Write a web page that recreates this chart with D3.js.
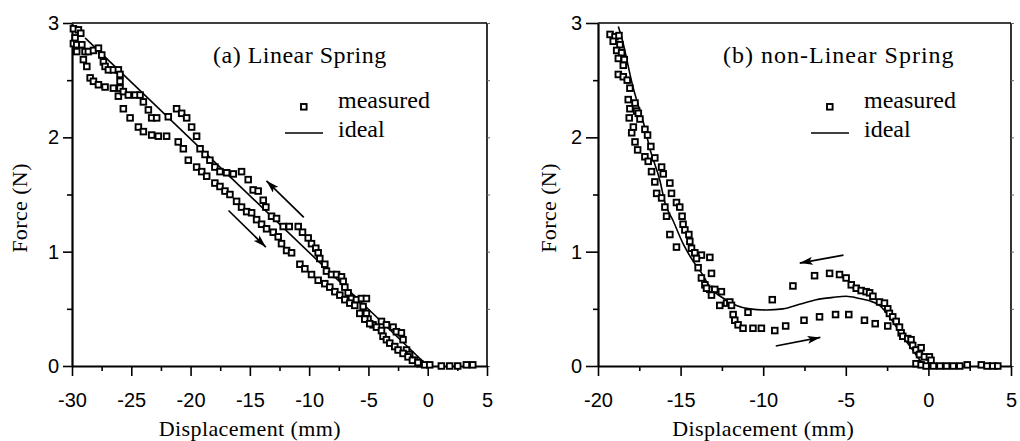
<!DOCTYPE html>
<html>
<head>
<meta charset="utf-8">
<script src="https://cdn.jsdelivr.net/npm/d3@7"></script>
<style>
body { margin: 0; background: #fff; }
</style>
</head>
<body>
<script>
// (a) linear spring, measured points [displacement mm, force N]
var upperA = [[-29.88,2.95],[-29.46,2.94],[-29.26,2.91],[-29.74,2.87],[-29.88,2.82],[-29.6,2.81],[-29.17,2.81],
  [-29.6,2.75],[-28.9,2.75],[-28.62,2.75],[-28.19,2.76],[-27.77,2.78],[-27.49,2.72],[-27.35,2.66],[-27.21,2.62],
  [-26.93,2.59],[-26.51,2.59],[-26.09,2.59],[-25.95,2.55],[-25.95,2.49],[-25.95,2.43],[-26.09,2.36],[-25.67,2.4],
  [-25.25,2.37],[-24.68,2.37],[-24.26,2.37],[-23.98,2.31],[-23.56,2.24],[-23.28,2.17],[-22.86,2.17],[-21.88,2.18],
  [-21.18,2.25],[-20.75,2.21],[-20.33,2.17],[-19.91,2.09],[-19.49,2.01],[-19.2,1.9],[-18.78,1.85],[-18.37,1.8],
  [-17.95,1.74],[-17.52,1.7],[-16.96,1.69],[-16.4,1.68],[-15.7,1.7],[-15.14,1.63],[-14.72,1.54],[-14.3,1.53],
  [-13.87,1.45],[-13.65,1.39],[-13.17,1.31],[-12.75,1.29],[-12.19,1.22],[-11.68,1.22],[-10.92,1.22],[-10.56,1.17],
  [-10.08,1.12],[-9.8,1.07],[-9.44,1.03],[-9.24,0.99],[-9.1,0.94],[-8.68,0.89],[-8.54,0.83],[-8.11,0.8],[-7.69,0.8],
  [-7.27,0.78],[-7.13,0.74],[-6.99,0.69],[-6.71,0.64],[-6.43,0.59],[-6.01,0.58],[-5.59,0.59],[-5.17,0.59],
  [-5.45,0.52],[-5.17,0.46],[-5.03,0.41],[-4.61,0.36],[-3.9,0.39],[-3.48,0.36],[-2.92,0.34],[-2.64,0.3],
  [-2.22,0.29],[-2.08,0.23],[-1.79,0.14],[-1.52,0.1],[-1.1,0.05],[-0.67,0.02],[-0.25,0.01]];
var lowerA = [[-29.04,2.68],[-28.75,2.62],[-28.47,2.52],[-28.19,2.49],[-27.77,2.46],[-27.21,2.44],[-26.51,2.43],
  [-25.67,2.25],[-25.1,2.17],[-24.4,2.09],[-23.98,2.05],[-23.28,2.02],[-22.72,2.01],[-22.02,2.01],[-21.04,1.96],
  [-20.61,1.9],[-20.19,1.8],[-19.49,1.74],[-19.06,1.7],[-18.64,1.66],[-17.95,1.6],[-17.52,1.57],[-17.1,1.53],
  [-16.68,1.5],[-16.12,1.44],[-15.7,1.39],[-15.27,1.35],[-14.85,1.34],[-14.43,1.28],[-14.01,1.24],[-13.59,1.2],
  [-13.03,1.17],[-12.61,1.13],[-12.33,1.07],[-11.9,1.01],[-11.48,0.99],[-10.78,0.89],[-10.36,0.85],[-9.8,0.8],
  [-9.24,0.75],[-8.68,0.72],[-8.26,0.69],[-7.83,0.65],[-7.41,0.62],[-6.99,0.58],[-6.57,0.55],[-6.15,0.53],
  [-5.73,0.46],[-5.31,0.41],[-4.89,0.37],[-4.32,0.34],[-3.9,0.31],[-3.77,0.26],[-3.48,0.23],[-3.2,0.2],
  [-2.78,0.17],[-2.5,0.14],[-2.08,0.11],[-1.66,0.08],[-1.29,0.05],[-0.82,0.03]];
var flatA = [[0.17,0.01],[1.15,0],[1.85,0],[2.53,0],[3.26,0.01],[3.8,0.01]];
var idealA = [[-28.9,2.87],[0,0]];
var arrowsA = [[-16.8,1.36,-13.65,1.04],[-10.45,1.3,-13.6,1.62]];

// (b) non-linear spring
var steepB = [[-19.27,2.9],[-18.97,2.88],[-18.73,2.89],[-19.08,2.84],[-18.67,2.81],[-18.87,2.76],[-18.57,2.74],
  [-18.77,2.69],[-18.41,2.68],[-18.47,2.63],[-18.77,2.55],[-18.47,2.53],[-18.23,2.5],[-18.07,2.43],[-18.17,2.33],
  [-17.76,2.3],[-18.07,2.25],[-17.66,2.23],[-17.56,2.21],[-18.11,2.17],[-17.46,2.16],[-17.86,2.09],[-17.16,2.07],
  [-17.96,2.04],[-17.0,2.02],[-17.76,1.96],[-16.8,1.92],[-17.6,1.89],[-17.16,1.83],[-16.56,1.82],[-16.96,1.79],
  [-16.15,1.74],[-16.76,1.7],[-16.05,1.68],[-16.56,1.61],[-15.65,1.6],[-16.45,1.51],[-15.55,1.51],[-16.15,1.47],
  [-15.25,1.43],[-15.95,1.39],[-15.05,1.39],[-15.85,1.31],[-14.91,1.31],[-14.85,1.24],[-14.74,1.19],[-15.65,1.15],
  [-14.5,1.15],[-14.44,1.09],[-15.25,1.04],[-14.34,1.03],[-14.14,0.99],[-13.74,0.97],[-13.23,0.95],[-14.04,0.94],
  [-13.94,0.86],[-13.13,0.81],[-13.74,0.77],[-13.53,0.71],[-13.23,0.67],[-12.93,0.67],[-12.53,0.65],[-13.13,0.62],
  [-13.43,0.68],[-12.63,0.53],[-12.22,0.55],[-12.02,0.56],[-11.92,0.53]];
var humpLowerB = [[-11.82,0.45],[-11.72,0.4],[-11.52,0.36],[-11.22,0.33],[-10.62,0.33],[-10.11,0.33],[-9.3,0.31],
  [-8.64,0.35],[-7.53,0.4],[-6.59,0.43],[-5.62,0.45],[-4.82,0.45],[-3.87,0.4],[-3.22,0.37],[-2.46,0.35]];
var humpUpperB = [[-10.92,0.47],[-9.45,0.58],[-8.2,0.7],[-6.89,0.79],[-5.98,0.81],[-5.38,0.8],[-4.98,0.77],
  [-4.67,0.71],[-4.37,0.68],[-4.07,0.66],[-3.77,0.65],[-3.56,0.64],[-3.36,0.61],[-2.96,0.56],[-2.66,0.55]];
var dropB = [[-2.46,0.5],[-2.36,0.46],[-2.16,0.43],[-1.95,0.39],[-1.75,0.34],[-1.65,0.29],[-1.55,0.26],
  [-1.25,0.24],[-1.05,0.23],[-0.95,0.18],[-0.75,0.14],[-0.44,0.16],[-0.54,0.1],[-0.24,0.08],[0.06,0.08],
  [0.16,0.05],[-0.75,0.02],[-0.44,0.01],[-0.14,0]];
var flatB = [[0.3,0],[0.7,0],[1.1,0],[1.5,0],[1.9,0],[2.35,0.01],[3.2,0.01],[3.55,0],[3.9,0],[4.2,0]];
var idealB = [[-18.77,2.97],[-18.6,2.89],[-17.9,2.45],[-17.16,2.08],[-16.86,1.9],[-16.25,1.62],[-15.95,1.43],
  [-15.45,1.27],[-14.85,1.07],[-14.3,0.93],[-13.63,0.79],[-13.23,0.69],[-12.6,0.61],[-12.12,0.57],[-11.62,0.53],
  [-10.82,0.5],[-9.82,0.49],[-8.8,0.5],[-7.8,0.54],[-6.79,0.58],[-5.78,0.6],[-4.98,0.61],[-4.17,0.59],
  [-3.56,0.57],[-2.96,0.53],[-2.36,0.43],[-1.75,0.3],[-0.95,0.14],[-0.44,0.04],[0.06,0]];
var arrowsB = [[-5.14,0.97,-7.79,0.9],[-9.24,0.175,-6.54,0.25]];

// ticks
var xTicksA = [-30, -25, -20, -15, -10, -5, 0, 5];
var xMinorA = [-27.5, -22.5, -17.5, -12.5, -7.5, -2.5, 2.5];
var xTicksB = [-20, -15, -10, -5, 0, 5];
var xMinorB = [-17.5, -12.5, -7.5, -2.5, 2.5];
var yTicks = [0, 1, 2, 3];
var yMinor = [0.5, 1.5, 2.5];

var width = 1020;
var height = 441;
var serif = '"Liberation Serif", "Times New Roman", serif';
var sans = '"Liberation Sans", Arial, sans-serif';

var svg = d3.select('body').append('svg')
    .attr('width', width)
    .attr('height', height);

svg.append('defs').append('marker')
    .attr('id', 'head')
    .attr('viewBox', '0 0 13 8')
    .attr('refX', 13)
    .attr('refY', 4)
    .attr('markerWidth', 13)
    .attr('markerHeight', 8)
    .attr('markerUnits', 'userSpaceOnUse')
    .attr('orient', 'auto')
    .append('path')
    .attr('d', 'M0,0L13,4L0,8L3,4Z')
    .attr('fill', '#000');

function drawPanel(p) {
    var x = d3.scaleLinear().domain(p.xDomain).range([p.left, p.right]);
    var y = d3.scaleLinear().domain([0, 3]).range([366, 23]);
    var g = svg.append('g');

    // frame
    g.append('line').attr('x1', p.left).attr('x2', p.right).attr('y1', y(3)).attr('y2', y(3))
        .attr('stroke', '#000').attr('stroke-width', 1.6);
    g.append('line').attr('x1', p.right).attr('x2', p.right).attr('y1', y(3)).attr('y2', y(0))
        .attr('stroke', '#000').attr('stroke-width', 1.6);
    var rt = g.append('g').attr('transform', 'translate(' + p.right + ',0)')
        .call(d3.axisRight(y).tickValues(yTicks.concat(yMinor)).tickSize(3).tickFormat(''));
    rt.select('.domain').remove();
    rt.selectAll('line').attr('stroke', '#666').attr('stroke-width', 1);

    // axes
    var xa = g.append('g').attr('transform', 'translate(0,' + y(0) + ')')
        .call(d3.axisBottom(x).tickValues(p.xTicks).tickSize(10).tickSizeOuter(0).tickPadding(17)
            .tickFormat(function (d) { return String(d); }));
    var xm = g.append('g').attr('transform', 'translate(0,' + y(0) + ')')
        .call(d3.axisBottom(x).tickValues(p.xMinor).tickSize(5).tickSizeOuter(0).tickFormat(''));
    xm.select('.domain').remove();
    var ya = g.append('g').attr('transform', 'translate(' + p.left + ',0)')
        .call(d3.axisLeft(y).tickValues(yTicks).tickSize(p.yTick).tickSizeOuter(0).tickPadding(4)
            .tickFormat(function (d) { return String(d); }));
    var ym = g.append('g').attr('transform', 'translate(' + p.left + ',0)')
        .call(d3.axisLeft(y).tickValues(yMinor).tickSize(5).tickSizeOuter(0).tickFormat(''));
    ym.select('.domain').remove();
    [xa, ya].forEach(function (a) {
        a.select('.domain').attr('stroke-width', 2.2);
        a.selectAll('text').attr('font-family', sans).attr('font-size', 20).attr('fill', '#000');
    });
    g.selectAll('.tick line').filter(function () { return this.getAttribute('stroke') !== '#666'; })
        .attr('stroke-width', 1.6);

    // labels
    g.append('text')
        .attr('x', x(p.labelAt)).attr('y', 436)
        .attr('text-anchor', 'middle')
        .attr('font-family', serif).attr('font-size', 22).attr('letter-spacing', 0.4)
        .text('Displacement (mm)');
    g.append('text')
        .attr('transform', 'translate(' + p.yLabelX + ',208) rotate(-90)')
        .attr('text-anchor', 'middle')
        .attr('font-family', serif).attr('font-size', 22).attr('letter-spacing', 0.4)
        .text('Force (N)');
    g.append('text')
        .attr('x', p.titleX).attr('y', 63)
        .attr('font-family', serif).attr('font-size', 24).attr('letter-spacing', p.titleSpacing)
        .text(p.title);

    // ideal line
    var line = d3.line()
        .x(function (d) { return x(d[0]); })
        .y(function (d) { return y(d[1]); })
        .curve(p.curve);
    g.append('path').datum(p.ideal)
        .attr('d', line)
        .attr('fill', 'none').attr('stroke', '#000').attr('stroke-width', 1.6);

    // arrows
    g.selectAll('.arrow').data(p.arrows).enter().append('line')
        .attr('class', 'arrow')
        .attr('x1', function (d) { return x(d[0]); })
        .attr('y1', function (d) { return y(d[1]); })
        .attr('x2', function (d) { return x(d[2]); })
        .attr('y2', function (d) { return y(d[3]); })
        .attr('stroke', '#000').attr('stroke-width', 1.7)
        .attr('marker-end', 'url(#head)');

    // measured squares
    g.selectAll('.pt').data(p.measured).enter().append('rect')
        .attr('class', 'pt')
        .attr('x', function (d) { return x(d[0]) - 2.8; })
        .attr('y', function (d) { return y(d[1]) - 2.8; })
        .attr('width', 5.6).attr('height', 5.6)
        .attr('fill', '#fff').attr('stroke', '#000').attr('stroke-width', 1.9);

    // legend
    g.append('rect')
        .attr('x', p.legendX + 16).attr('y', 104).attr('width', 5.6).attr('height', 5.6)
        .attr('fill', '#fff').attr('stroke', '#000').attr('stroke-width', 1.9);
    g.append('line')
        .attr('x1', p.legendX).attr('x2', p.legendX + 38).attr('y1', 133).attr('y2', 133)
        .attr('stroke', '#000').attr('stroke-width', 1.6);
    g.append('text').attr('x', p.legendX + 53).attr('y', 108)
        .attr('font-family', serif).attr('font-size', 24).text('measured');
    g.append('text').attr('x', p.legendX + 53).attr('y', 137)
        .attr('font-family', serif).attr('font-size', 24).text('ideal');
}

drawPanel({
    xDomain: [-30, 5], left: 72, right: 487, yTick: 9,
    xTicks: xTicksA, xMinor: xMinorA, labelAt: -15, yLabelX: 27,
    title: '(a) Linear Spring', titleX: 213, titleSpacing: 0.5,
    ideal: idealA, curve: d3.curveLinear, arrows: arrowsA,
    measured: upperA.concat(lowerA, flatA), legendX: 285
});

drawPanel({
    xDomain: [-20, 5], left: 598, right: 1011, yTick: 12,
    xTicks: xTicksB, xMinor: xMinorB, labelAt: -10, yLabelX: 556,
    title: '(b) non-Linear Spring', titleX: 723, titleSpacing: 1,
    ideal: idealB, curve: d3.curveMonotoneX, arrows: arrowsB,
    measured: steepB.concat(humpLowerB, humpUpperB, dropB, flatB), legendX: 811
});
</script>
</body>
</html>
